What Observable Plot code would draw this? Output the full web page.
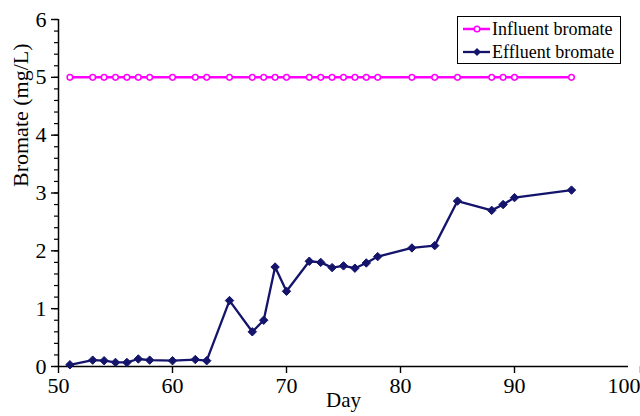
<!DOCTYPE html>
<html>
<head>
<meta charset="utf-8">
<script src="https://cdn.jsdelivr.net/npm/d3@7"></script>
<script src="https://cdn.jsdelivr.net/npm/@observablehq/plot@0.6"></script>
<style>
  html, body { margin: 0; padding: 0; background: #fff; }
  #wrap { position: relative; width: 640px; height: 416px; font-family: "Liberation Serif", "DejaVu Serif", serif; }
  #wrap svg, #wrap svg text { font-family: "Liberation Serif", "DejaVu Serif", serif !important; }
  #legend { position: absolute; left: 457px; top: 16px; width: 164px; height: 48px; border: 1px solid #000; background: #fff; box-sizing: border-box; font-size: 18px; }
  #legend .row { display: flex; align-items: center; height: 22px; margin-top: 1px; }
  #legend svg { display: block; margin-left: 5px; margin-right: 2px; }
</style>
</head>
<body>
<div id="wrap"></div>
<script>
const days = [51,53,54,55,56,57,58,60,62,63,65,67,68,69,70,72,73,74,75,76,77,78,81,83,85,88,89,90,95];
const influent = [5,5,5,5,5,5,5,5,5,5,5,5,5,5,5,5,5,5,5,5,5,5,5,5,5,5,5,5,5];
const effluent = [0.03,0.11,0.10,0.07,0.07,0.13,0.11,0.10,0.12,0.10,1.14,0.60,0.80,1.72,1.30,1.82,1.80,1.71,1.74,1.70,1.79,1.90,2.05,2.09,2.86,2.70,2.80,2.92,3.05];
const xTicks = [50,60,70,80,90,100];
const yTicks = [0,1,2,3,4,5,6];
const seriesNames = ["Influent bromate", "Effluent bromate"];
const colors = ["#ff00ff", "#14146c"];

const infData = days.map((d, i) => ({day: d, value: influent[i]}));
const effData = days.map((d, i) => ({day: d, value: effluent[i]}));

const font = "Liberation Serif";
const lastX = xTicks[xTicks.length - 1];
const chart = Plot.plot({
  width: 640,
  height: 416,
  marginLeft: 58,
  marginRight: 12,
  marginTop: 19,
  marginBottom: 50,
  style: {fontFamily: font, background: "#fff", color: "#000"},
  x: {domain: [50, 100]},
  y: {domain: [0, 6]},
  marks: [
    Plot.axisY(d3.range(0, 6.001, 0.2), {tickSize: 4, text: null, label: null, strokeWidth: 1.2}),
    Plot.axisY(yTicks, {tickSize: 7, tickPadding: 5, fontSize: 22, fontFamily: font, tickFormat: d => String(d), label: null, strokeWidth: 1.4}),
    Plot.axisX(xTicks.slice(0, -1), {tickSize: 7, tickPadding: 4, fontSize: 22, fontFamily: font, tickFormat: d => String(d), label: null, strokeWidth: 1.4}),
    Plot.axisX([lastX], {tickSize: 7, tickPadding: 4, fontSize: 22, fontFamily: font, tickFormat: d => String(d), label: null, strokeWidth: 1.4, textAnchor: "end", dx: 12}),
    Plot.ruleX([50], {strokeWidth: 1.5}),
    Plot.ruleY([0], {strokeWidth: 1.5}),
    Plot.line(infData, {x: "day", y: "value", stroke: colors[0], strokeWidth: 2.5}),
    Plot.dot(infData, {x: "day", y: "value", r: 2.8, fill: "#fff", stroke: colors[0], strokeWidth: 1.5}),
    Plot.line(effData, {x: "day", y: "value", stroke: colors[1], strokeWidth: 2.3}),
    Plot.dot(effData, {x: "day", y: "value", symbol: "diamond2", r: 3.8, fill: colors[1], stroke: colors[1], strokeWidth: 1}),
    Plot.text(["Bromate (mg/L)"], {frameAnchor: "left", rotate: -90, dx: -38, dy: -6, fontSize: 22, fontFamily: font, fill: "#000"}),
    Plot.text(["Day"], {frameAnchor: "bottom", dy: 40, fontSize: 21, fontFamily: font, fill: "#000"})
  ]
});
const wrap = document.getElementById("wrap");
wrap.appendChild(chart);

const legend = document.createElement("div");
legend.id = "legend";
seriesNames.forEach((name, i) => {
  const row = document.createElement("div");
  row.className = "row";
  const marker = i === 0
    ? `<circle cx="14" cy="6" r="2.8" fill="#fff" stroke="${colors[0]}" stroke-width="1.5"/>`
    : `<path d="M14,2 L18,6 L14,10 L10,6 Z" fill="${colors[1]}"/>`;
  row.innerHTML = `<svg width="27" height="12"><line x1="0" y1="6" x2="27" y2="6" stroke="${colors[i]}" stroke-width="${i === 0 ? 2.5 : 2.3}"/>${marker}</svg><span>${name}</span>`;
  legend.appendChild(row);
});
wrap.appendChild(legend);
</script>
</body>
</html>
